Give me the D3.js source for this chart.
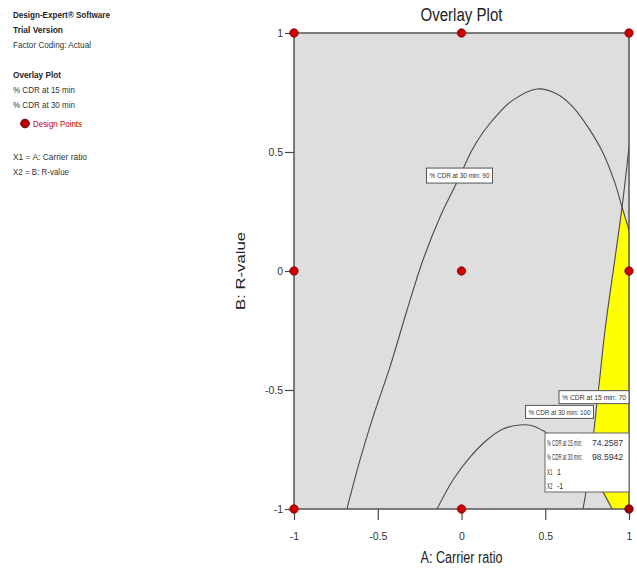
<!DOCTYPE html>
<html><head><meta charset="utf-8">
<script src="https://cdn.jsdelivr.net/npm/d3@7"></script>
<style>
body{margin:0;background:#fff}
svg{display:block}
text{font-family:"Liberation Sans",Arial,sans-serif}
</style>
</head><body>
<svg id="c" width="637" height="568"></svg>
<script>
// ---------------- data ----------------
const xTicks = [-1, -0.5, 0, 0.5, 1];
const yTicks = [-1, -0.5, 0, 0.5, 1];
const tickLabels = ["-1", "-0.5", "0", "0.5", "1"];
const designA = [-1, 0, 1, -1, 0, 1, -1, 0, 1];
const designB = [1, 1, 1, 0, 0, 0, -1, -1, -1];
// contour: % CDR at 30 min = 90
const cdr30_90 = [[-0.684,-1.000],[-0.606,-0.794],[-0.528,-0.613],[-0.427,-0.403],[-0.325,-0.164],
  [-0.230,0.046],[-0.128,0.227],[-0.021,0.382],[0.063,0.508],[0.128,0.582],[0.212,0.655],
  [0.307,0.718],[0.451,0.765],[0.570,0.744],[0.666,0.689],[0.767,0.592],[0.845,0.496],
  [0.916,0.370],[0.958,0.269],[1.000,0.172]];
// contour: % CDR at 30 min = 100
const cdr30_100 = [[-0.146,-1.000],[-0.051,-0.878],[0.051,-0.782],[0.152,-0.710],[0.248,-0.664],
  [0.349,-0.647],[0.427,-0.651],[0.499,-0.676],[0.588,-0.718],[0.678,-0.773],[0.761,-0.840],
  [0.845,-0.929],[0.899,-1.000]];
// contour: % CDR at 15 min = 70
const cdr15_70 = [[1.000,0.521],[0.958,0.265],[0.857,-0.248],[0.821,-0.479],[0.809,-0.550],
  [0.791,-0.668],[0.743,-0.929],[0.725,-1.000]];
const contourLabels = ["% CDR at 30 min: 90", "% CDR at 30 min: 100", "% CDR at 15 min: 70"];
const flagNames = ["% CDR at 15 min:", "% CDR at 30 min:", "X1", "X2"];
const flagValues = ["74.2587", "98.5942", "1", "-1"];
const legendHeader = ["Design-Expert® Software", "Trial Version"];
const legendInfo = ["Factor Coding: Actual"];
const legendPlot = ["Overlay Plot", "% CDR at 15 min", "% CDR at 30 min"];
const legendPoints = ["Design Points"];
const legendVars = ["X1 = A: Carrier ratio", "X2 = B: R-value"];

// ---------------- layout ----------------
const svg = d3.select("#c");
const L = 294, R = 629, T = 33, B = 509;
const x = d3.scaleLinear([-1, 1], [L, R]);
const y = d3.scaleLinear([-1, 1], [B, T]);
const dark = "#4a4a4a";

function txt(parent, s, px, py, size, width, opts = {}) {
  const t = parent.append("text").attr("x", px).attr("y", py).attr("font-size", size)
    .attr("fill", opts.fill || "#2a2a2a").text(s);
  if (opts.bold) t.attr("font-weight", "bold");
  if (opts.anchor) t.attr("text-anchor", opts.anchor);
  if (width) t.attr("textLength", width).attr("lengthAdjust", "spacingAndGlyphs");
  return t;
}
// horizontally condensed text via a transform
function ctxt(parent, s, px, py, size, k, fill) {
  return parent.append("g").attr("transform", `translate(${px},${py}) scale(${k},1)`)
    .append("text").attr("x", 0).attr("y", 0).attr("font-size", size).attr("fill", fill).text(s);
}

const defs = svg.append("defs");
defs.append("clipPath").attr("id", "plotClip")
  .append("rect").attr("x", L).attr("y", T).attr("width", R - L).attr("height", B - T);

svg.append("rect").attr("x", L).attr("y", T).attr("width", R - L).attr("height", B - T)
  .attr("fill", "#dedede");

const curve = d3.line().x(d => x(d[0])).y(d => y(d[1])).curve(d3.curveCatmullRom.alpha(0.5));

defs.append("clipPath").attr("id", "under90").append("path")
  .attr("d", curve(cdr30_90) + `L${x(1)},${y(-1)}L${x(cdr30_90[0][0])},${y(-1)}Z`);
const m = defs.append("mask").attr("id", "out100");
m.append("rect").attr("x", 0).attr("y", 0).attr("width", 637).attr("height", 568).attr("fill", "#fff");
m.append("path").attr("d", curve(cdr30_100) + "Z").attr("fill", "#000");

const g = svg.append("g").attr("clip-path", "url(#plotClip)");
g.append("g").attr("clip-path", "url(#under90)").append("path")
  .attr("d", curve(cdr15_70) + `L${x(1)},${y(-1)}Z`)
  .attr("fill", "#ffff00").attr("mask", "url(#out100)");

[cdr30_90, cdr30_100, cdr15_70].forEach(c => {
  g.append("path").attr("d", curve(c)).attr("fill", "none")
    .attr("stroke", dark).attr("stroke-width", 1.1);
});

// axes
const ax = svg.append("g").attr("transform", `translate(0,${B})`)
  .call(d3.axisBottom(x).tickValues(xTicks).tickFormat(d => tickLabels[xTicks.indexOf(d)])
    .tickSize(11).tickPadding(13));
const ay = svg.append("g").attr("transform", `translate(${L},0)`)
  .call(d3.axisLeft(y).tickValues(yTicks).tickFormat(d => tickLabels[yTicks.indexOf(d)])
    .tickSize(9).tickPadding(2));
[ax, ay].forEach(a => {
  a.select(".domain").remove();
  a.selectAll("line").attr("stroke", dark).attr("stroke-width", 1.2);
  a.selectAll("text").attr("font-size", 10.5).attr("fill", "#333")
    .attr("font-family", "Liberation Sans, Arial, sans-serif");
});

svg.append("rect").attr("x", L).attr("y", T).attr("width", R - L).attr("height", B - T)
  .attr("fill", "none").attr("stroke", dark).attr("stroke-width", 1.4);

// contour labels
function tag(label, cx, cy, w, h) {
  const t = svg.append("g");
  t.append("rect").attr("x", cx - w / 2).attr("y", cy - h / 2).attr("width", w).attr("height", h)
    .attr("fill", "#fff").attr("stroke", "#555").attr("stroke-width", 1);
  txt(t, label, cx, cy + 2.7, 7.5, w - 6, { anchor: "middle", fill: "#333" });
}
tag(contourLabels[0], x(-0.012), y(0.401), 66, 15);
tag(contourLabels[1], x(0.585), y(-0.592), 68, 13);
tag(contourLabels[2], x(1) - 35, y(-0.53), 70, 13);

// design points
svg.append("g").selectAll("circle").data(designA.map((a, i) => [a, designB[i]])).join("circle")
  .attr("cx", d => x(d[0])).attr("cy", d => y(d[1])).attr("r", 4.2)
  .attr("fill", (d, i) => i === 8 ? "#a00000" : "#cc0000")
  .attr("stroke", (d, i) => i === 8 ? "#600000" : "#800000").attr("stroke-width", 0.8);

// flag box for point (1,-1)
const fx = x(1), fy = y(-1) - 17;
const fb = svg.append("g");
fb.append("rect").attr("x", fx - 84).attr("y", fy - 59).attr("width", 84).attr("height", 59)
  .attr("fill", "#fff").attr("stroke", "#666").attr("stroke-width", 1);
flagNames.forEach((n, i) => {
  const yy = fy - 46 + i * 14.3;
  ctxt(fb, n, fx - 82, yy, 8.8, 0.5, "#333");
  if (i < 2) ctxt(fb, flagValues[i], fx - 37, yy, 8.8, 0.98, "#333");
  else ctxt(fb, flagValues[i], fx - 72, yy, 8.8, 0.8, "#333");
});

// titles
txt(svg, "Overlay Plot", (L + R) / 2, 21, 18, 82, { anchor: "middle", fill: "#222" });
txt(svg, "A: Carrier ratio", (L + R) / 2, 563, 16, 82, { anchor: "middle", fill: "#222" });
svg.append("g").attr("transform", `translate(245,${(T + B) / 2}) rotate(-90) scale(1,0.8)`)
  .call(s => txt(s, "B: R-value", 0, 0, 15, 78, { anchor: "middle", fill: "#222" }));

// left legend
const lg = svg.append("g");
const hw = [97, 50];
legendHeader.forEach((t, i) => txt(lg, t, 13, 18 + i * 15, 8.6, hw[i], { bold: true, fill: "#1e1e1e" }));
legendInfo.forEach((t, i) => txt(lg, t, 13, 48 + i * 15, 8.6, 78, { fill: "#333" }));
const pw = [48, 62, 62];
legendPlot.forEach((t, i) => txt(lg, t, 13, 78 + i * 15, 8.6, pw[i],
  { bold: i === 0, fill: i === 0 ? "#1e1e1e" : "#333" }));
lg.append("circle").attr("cx", 25).attr("cy", 123.5).attr("r", 4.3).attr("fill", "#c00000")
  .attr("stroke", "#500000").attr("stroke-width", 1);
legendPoints.forEach(t => txt(lg, t, 33, 127, 8.6, 49, { fill: "#c00000" }));
const vw = [74, 56];
legendVars.forEach((t, i) => txt(lg, t, 13, 160 + i * 15, 8.6, vw[i], { fill: "#333" }));
</script>
</body></html>
